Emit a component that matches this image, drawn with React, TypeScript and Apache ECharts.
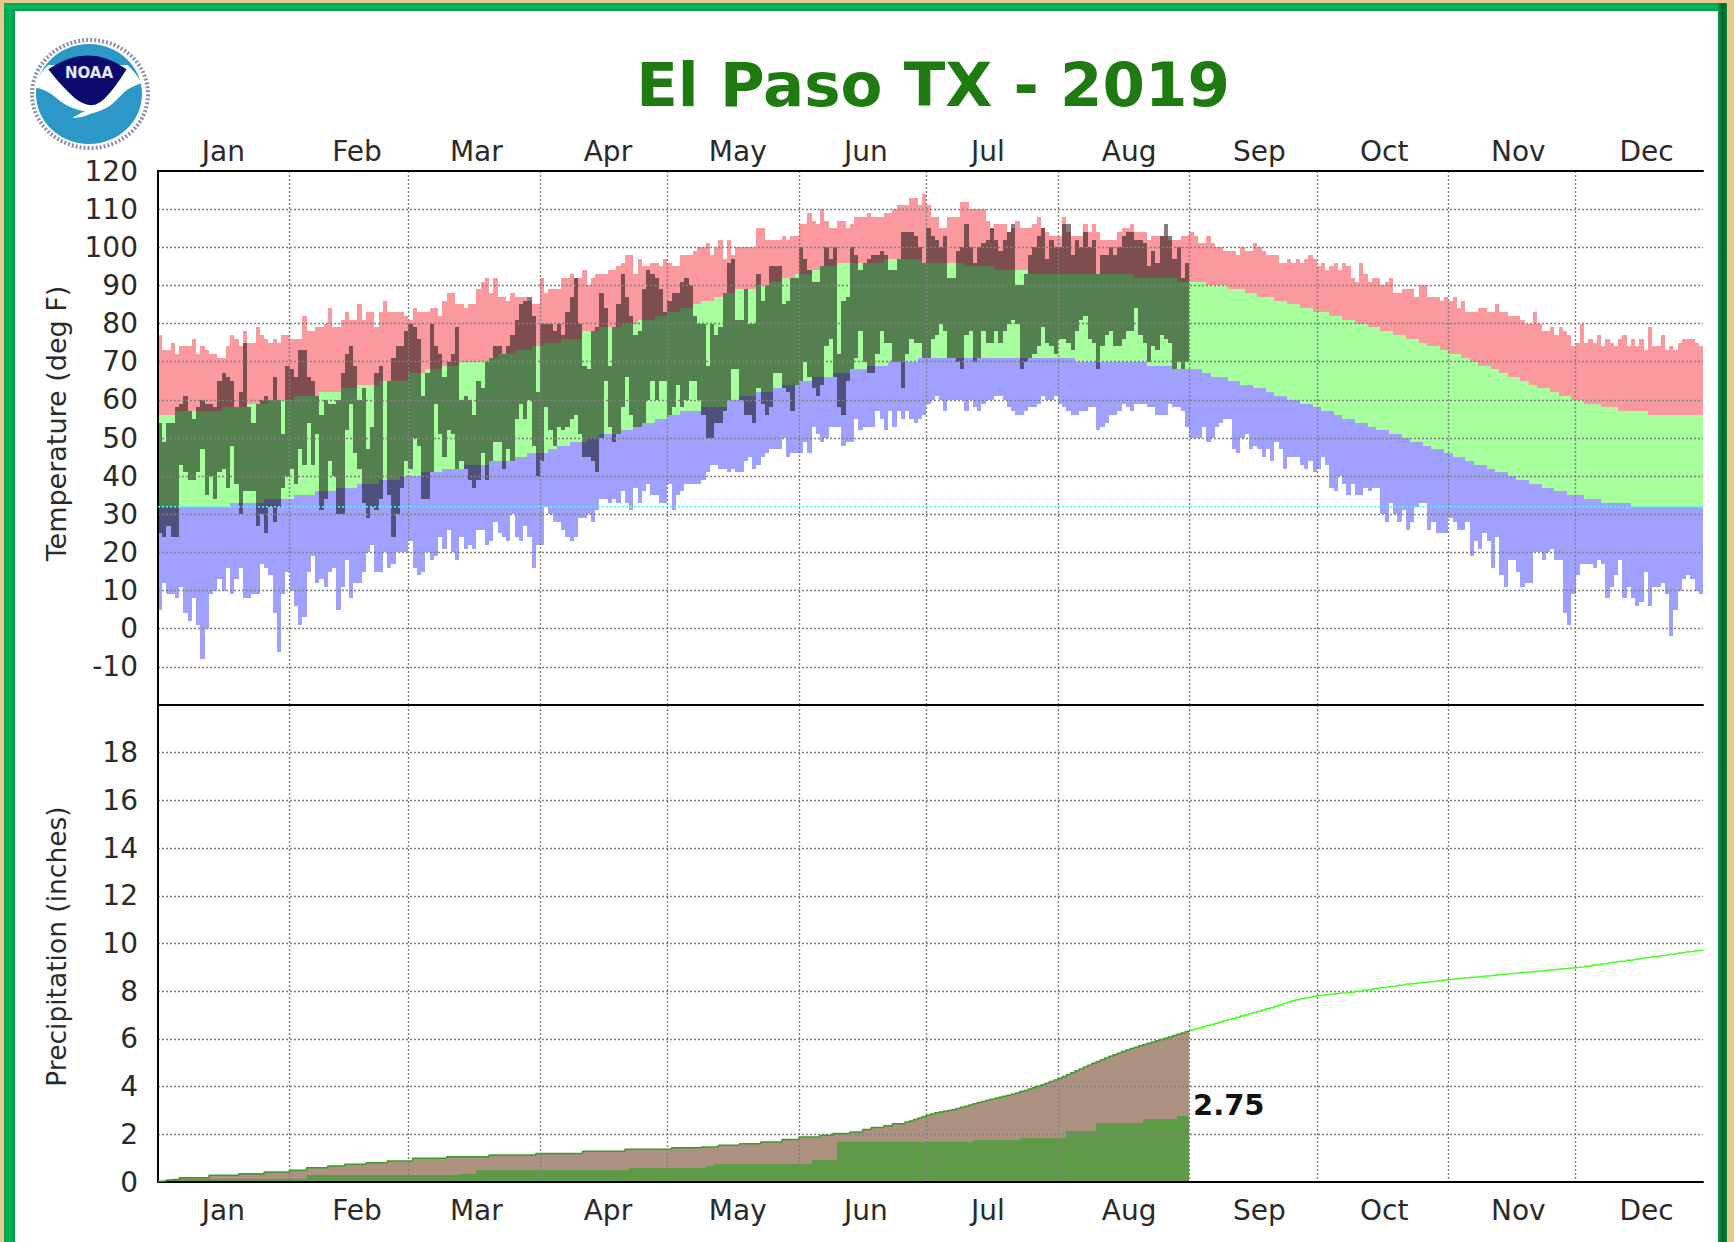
import React, { useEffect, useRef } from "react";
import * as echarts from "echarts";

const chartTitle = "El Paso TX - 2019";
const totalLabel = "2.75";
const monthNames = ["Jan", "Feb", "Mar", "Apr", "May", "Jun", "Jul", "Aug", "Sep", "Oct", "Nov", "Dec"];
const monthStarts = [31, 59, 90, 120, 151, 181, 212, 243, 273, 304, 334];
const monthLabelDays = [15.4, 46.9, 75, 106, 136.6, 166.8, 195.5, 228.8, 259.5, 288.9, 320.5, 350.7];
const freezing = 32;
const axisMaxDay = 364;
const lastObservedDay = 243;

const recordHigh = [
  77,73,73,75,72,74,74,74,76,72,74,73,72,72,71,71,74,77,76,74,78,75,75,79,77,76,75,76,75,77,77,
  76,76,76,82,78,78,79,79,80,84,79,79,81,83,81,81,85,81,83,83,79,83,86,83,83,83,83,82,
  81,84,83,83,83,84,84,82,86,88,88,85,85,84,85,85,89,91,92,88,92,87,87,86,88,87,87,87,86,85,85,
  92,88,89,89,89,92,92,93,92,92,94,90,92,93,93,93,94,94,95,96,98,98,93,97,95,95,96,96,95,97,
  96,95,95,98,98,98,99,100,100,101,98,100,102,97,102,98,100,100,100,100,100,105,105,102,102,102,102,103,102,103,103,
  106,106,109,107,106,110,107,105,105,107,107,105,106,108,108,108,109,108,108,108,109,109,110,111,111,111,113,113,111,114,
  111,108,108,105,105,108,108,108,112,112,110,110,110,110,107,105,106,106,106,104,105,107,105,105,105,106,108,105,104,103,103,
  103,108,104,103,103,103,106,104,106,104,102,102,102,102,104,105,105,106,104,104,104,102,103,103,103,103,102,102,102,103,103,
  104,103,101,101,103,101,100,100,99,99,99,98,100,99,99,101,100,99,98,98,98,96,96,97,96,97,96,97,98,97,
  95,96,94,95,96,94,96,95,92,91,96,93,91,92,92,90,91,92,88,88,89,89,89,87,90,90,87,87,87,86,87,
  86,87,84,86,83,83,83,84,84,83,83,85,83,83,82,82,82,81,80,80,83,80,78,78,79,77,79,78,77,74,
  75,80,75,76,75,77,74,76,75,74,76,77,74,76,74,76,73,79,74,74,77,73,74,73,75,76,76,76,75,74,74,
];

const normalHigh = [
  56,56,56,56,57,57,57,57,57,57,57,57,57,57,57,58,58,58,58,58,58,59,59,59,59,59,60,60,60,60,60,
  60,61,61,61,61,61,61,62,62,62,62,62,63,63,63,63,64,64,64,64,64,65,65,65,65,65,65,65,
  67,67,67,67,68,68,68,68,69,69,69,69,70,70,70,70,70,70,70,71,71,72,72,72,72,73,73,73,73,74,74,
  74,75,75,75,75,76,76,76,76,76,78,78,78,78,79,79,79,79,79,80,80,80,80,81,81,81,81,82,82,82,
  83,83,83,84,84,84,85,85,86,86,86,87,87,88,88,88,89,89,89,89,89,90,90,90,91,91,91,92,92,92,93,
  93,93,93,94,94,95,95,95,95,96,96,96,96,96,96,96,96,96,96,96,97,97,97,97,97,97,97,97,97,96,
  96,96,96,96,96,96,96,96,96,95,95,95,95,95,95,95,94,94,94,94,94,94,94,94,93,93,93,93,93,93,93,
  93,93,93,93,93,93,93,93,93,93,93,93,93,93,93,93,93,93,92,92,92,92,92,92,92,92,92,92,91,91,91,
  91,91,91,91,90,90,90,90,90,89,89,89,89,88,88,88,87,87,87,87,86,86,86,85,85,85,84,84,84,83,
  83,83,83,82,82,82,81,81,81,80,80,80,79,79,79,78,78,78,77,77,77,76,76,76,75,75,74,74,74,73,73,
  72,72,72,71,71,70,70,69,69,69,68,68,67,67,66,66,66,65,65,64,64,63,63,63,62,62,61,61,61,60,
  60,60,59,59,59,59,58,58,58,58,57,57,57,57,57,57,57,56,56,56,56,56,56,56,56,56,56,56,56,56,56,
];

const normalLow = [
  32,32,32,32,32,32,32,32,32,32,32,32,32,32,32,32,32,33,33,33,33,33,33,33,33,34,34,34,34,34,34,
  34,35,35,35,35,35,36,36,36,36,36,37,37,37,37,37,38,38,38,38,38,39,39,39,39,39,40,40,
  40,40,40,41,41,41,41,41,42,42,42,42,42,43,43,43,43,43,43,44,44,44,44,44,44,45,45,45,46,46,46,
  46,46,47,47,48,48,48,49,49,49,49,50,50,50,51,51,51,51,51,52,52,52,53,53,54,54,54,55,55,55,
  56,56,56,57,57,57,57,57,58,58,58,58,58,58,60,60,60,61,61,61,61,62,62,62,62,63,63,64,64,64,64,
  65,65,65,66,66,66,66,66,67,67,67,67,68,68,68,68,69,69,69,69,69,70,70,70,70,70,70,70,71,71,
  71,71,71,71,71,71,71,71,71,71,71,71,71,71,71,71,71,71,71,71,71,71,71,71,71,71,71,71,71,71,71,
  71,71,71,71,70,70,70,70,70,70,70,70,70,70,70,70,70,70,70,70,70,69,69,69,69,69,69,68,68,68,68,
  68,68,68,67,67,66,66,66,66,65,65,65,64,64,64,63,63,63,62,62,61,61,61,60,60,60,59,59,59,58,
  58,57,57,57,56,56,55,55,55,54,54,54,53,53,52,52,52,51,51,51,50,50,49,49,49,48,48,47,47,47,46,
  46,45,45,45,44,44,43,43,43,42,42,41,41,41,40,40,39,39,39,38,38,38,37,37,37,36,36,36,35,35,
  35,35,34,34,34,34,33,33,33,33,33,33,33,32,32,32,32,32,32,32,32,32,32,32,32,32,32,32,32,32,32,
];

const recordLow = [
  5,12,9,9,8,11,4,2,8,1,-8,0,9,10,13,10,16,9,13,16,8,8,9,9,17,16,14,4,-6,9,15,
  10,6,1,3,15,19,12,13,11,15,16,5,11,18,8,12,12,15,20,22,15,15,20,16,17,20,20,20,
  23,16,14,15,20,18,19,24,21,26,20,18,24,21,22,21,26,26,22,23,28,25,24,23,30,24,23,27,24,16,22,
  22,32,30,28,28,26,24,23,24,29,29,30,28,31,34,34,33,34,33,36,33,31,37,33,36,38,35,35,33,33,
  38,31,35,36,38,38,38,38,39,41,43,43,42,42,41,42,41,41,44,45,42,43,45,46,47,47,47,50,45,46,46,
  46,49,46,53,51,49,50,53,53,53,48,49,49,55,52,53,53,53,57,55,52,57,53,57,55,57,55,54,55,56,
  59,60,61,60,57,60,60,60,60,57,60,58,57,59,60,60,61,61,60,58,57,56,56,57,58,58,59,61,60,60,61,
  59,58,57,56,56,57,57,58,58,52,53,54,56,56,57,59,58,57,59,59,59,58,58,56,56,56,59,58,58,57,53,
  50,50,50,53,49,50,53,54,55,55,47,46,50,51,47,48,47,45,47,44,49,47,42,45,45,45,43,42,44,41,
  42,45,43,37,36,40,38,35,38,35,35,37,36,37,37,30,28,33,30,28,31,26,28,32,33,33,26,28,25,25,25,
  29,28,26,26,28,19,23,21,25,23,16,24,14,11,18,18,15,11,12,12,20,20,18,20,21,18,18,4,1,9,
  14,17,17,17,16,18,17,8,11,14,18,8,11,8,6,7,15,6,11,11,12,9,-2,5,10,13,14,13,10,9,9,
];

const observedHigh = [
  54,49,54,54,58,59,61,57,55,58,60,59,59,58,65,67,66,65,58,62,75,58,54,59,60,61,60,66,60,51,69,
  68,66,73,73,66,65,61,56,60,59,59,60,67,72,74,69,60,63,47,53,67,69,55,65,71,74,74,78,
  80,79,76,61,67,80,74,72,66,70,72,79,60,61,60,56,65,63,70,71,74,74,72,74,77,81,85,86,87,82,62,
  80,80,80,78,80,77,83,87,92,80,69,68,78,79,88,84,69,79,85,93,87,82,77,78,89,94,93,92,89,83,
  86,88,88,91,92,90,82,80,80,69,80,77,79,88,96,97,81,81,89,80,80,93,86,90,95,95,95,85,86,92,92,
  100,97,94,91,91,95,100,97,100,72,86,87,100,98,94,96,97,98,98,99,98,94,94,97,104,104,104,103,100,96,
  105,103,102,100,103,92,92,99,100,106,100,96,100,101,102,105,102,99,102,104,106,90,90,93,98,100,103,105,97,102,100,
  100,106,106,98,102,100,104,100,102,93,98,98,100,98,100,103,104,104,102,102,101,95,99,96,103,106,103,97,100,92,96,
];

const observedLow = [
  25,24,27,24,24,43,41,39,39,41,47,35,40,34,41,42,37,48,38,30,36,36,36,27,30,25,32,28,32,37,40,
  42,38,47,43,54,43,51,31,34,44,40,30,30,52,59,46,42,33,29,32,31,34,55,35,24,30,37,44,
  42,50,48,34,34,41,59,51,45,52,51,42,44,42,39,37,39,46,39,44,49,49,42,47,44,55,59,55,60,48,40,
  44,58,52,48,53,52,53,55,56,51,45,45,44,41,50,65,53,49,51,58,66,56,53,53,54,60,65,60,65,65,
  56,58,64,58,60,65,65,60,56,50,50,54,54,57,60,68,68,60,56,56,54,63,59,56,58,67,67,63,62,57,64,
  65,70,66,63,61,64,74,76,66,58,56,65,68,71,78,70,67,67,72,78,75,75,70,70,63,72,76,75,75,71,
  71,76,77,80,78,71,71,70,68,77,78,70,71,78,75,75,78,75,78,80,81,80,68,70,71,72,74,79,75,74,72,
  76,76,75,73,78,81,82,76,75,68,74,77,78,74,74,76,78,78,84,77,75,70,74,73,77,76,75,68,70,68,70,
];

const normalPrecip = [
  0.03,0.05,0.08,0.1,0.11,0.18,0.18,0.18,0.18,0.18,0.18,0.18,0.28,0.28,0.28,0.28,0.28,0.28,0.28,0.35,0.35,0.35,0.35,0.35,0.35,0.42,0.42,0.42,0.42,0.42,0.42,
  0.49,0.49,0.49,0.49,0.6,0.6,0.6,0.6,0.6,0.67,0.67,0.67,0.67,0.74,0.74,0.74,0.74,0.74,0.81,0.81,0.81,0.81,0.81,0.88,0.88,0.88,0.88,0.88,
  0.88,1,1,1,1,1,1,1,1,1.06,1.06,1.06,1.06,1.06,1.06,1.06,1.06,1.06,1.06,1.13,1.13,1.13,1.13,1.13,1.13,1.13,1.13,1.13,1.13,1.13,1.2,
  1.2,1.2,1.2,1.2,1.2,1.2,1.2,1.2,1.2,1.2,1.29,1.29,1.29,1.29,1.29,1.29,1.29,1.29,1.29,1.29,1.37,1.37,1.37,1.37,1.37,1.37,1.37,1.37,1.37,1.37,
  1.37,1.44,1.44,1.44,1.44,1.44,1.44,1.44,1.47,1.47,1.47,1.47,1.54,1.54,1.54,1.54,1.54,1.6,1.6,1.6,1.6,1.6,1.68,1.68,1.68,1.68,1.68,1.78,1.78,1.78,1.78,
  1.89,1.89,1.89,1.89,1.89,1.96,1.96,1.96,2.03,2.03,2.03,2.03,2.1,2.1,2.1,2.2,2.2,2.28,2.28,2.28,2.36,2.36,2.44,2.44,2.44,2.52,2.56,2.62,2.68,2.75,
  2.8,2.85,2.9,2.94,2.97,3,3.03,3.08,3.13,3.18,3.23,3.28,3.33,3.38,3.43,3.47,3.51,3.55,3.6,3.64,3.68,3.73,3.79,3.84,3.9,3.95,4.01,4.08,4.14,4.21,4.28,
  4.34,4.42,4.5,4.58,4.66,4.74,4.82,4.9,4.98,5.05,5.13,5.2,5.27,5.34,5.4,5.47,5.53,5.6,5.65,5.71,5.76,5.82,5.87,5.92,5.97,6.03,6.08,6.14,6.2,6.25,6.31,
  6.36,6.41,6.46,6.51,6.56,6.61,6.66,6.71,6.76,6.81,6.86,6.91,6.96,7.01,7.06,7.11,7.16,7.2,7.26,7.31,7.37,7.42,7.48,7.54,7.6,7.64,7.68,7.72,7.75,7.79,
  7.82,7.84,7.86,7.88,7.9,7.92,7.93,7.95,7.97,8,8.02,8.05,8.07,8.1,8.12,8.15,8.17,8.2,8.22,8.25,8.27,8.3,8.32,8.34,8.36,8.38,8.4,8.42,8.44,8.46,8.48,
  8.5,8.52,8.54,8.55,8.57,8.59,8.6,8.62,8.64,8.65,8.67,8.69,8.7,8.72,8.74,8.75,8.77,8.79,8.8,8.82,8.84,8.85,8.87,8.89,8.9,8.92,8.94,8.95,8.97,8.98,
  9,9.02,9.05,9.07,9.1,9.12,9.15,9.17,9.2,9.22,9.25,9.27,9.3,9.32,9.35,9.37,9.4,9.42,9.45,9.47,9.5,9.52,9.55,9.57,9.6,9.62,9.65,9.67,9.7,9.72,9.75,
];

const observedPrecip = [
  0.03,0.05,0.08,0.1,0.11,
  0.11,0.11,0.11,0.11,0.11, 0.11,0.11,0.11,0.11,0.11,
  0.11,0.11,0.11,0.11,0.11, 0.11,0.11,0.11,0.11,0.11,
  0.11,0.11,0.11,0.11,0.11, 0.11,
  0.11,0.11,0.11,0.11,
  0.28,0.28,0.28,0.28,0.28, 0.28,0.28,0.28,0.28,0.28,
  0.28,0.28,0.28,0.28,0.28, 0.28,0.28,0.28,0.28,0.28,
  0.28,0.28,0.28,0.28,
  0.28,0.28,0.28,0.28,0.28, 0.28,0.28,0.28,0.28,0.28, 0.28,0.28,
  0.35,0.35,0.35,0.35,
  0.5,0.5,0.5,0.5,0.5, 0.5,0.5,0.5,0.5,0.5, 0.5,0.5,0.5,0.5,0.5,
  0.5,0.5,0.5,0.5,0.5, 0.5,0.5,0.5,0.5,0.5, 0.5,0.5,0.5,0.5,0.5, 0.5,0.5,0.5,0.5,0.5, 0.5,
  0.6,0.6,0.6,0.6,0.6, 0.6,0.6,0.6,0.6,
  0.6,0.6,0.6,0.6,0.6, 0.6,0.6,0.6,0.6,
  0.67,0.67,
  0.75,0.75,0.75,0.75,0.75, 0.75,0.75,0.75,0.75,0.75, 0.75,0.75,0.75,0.75,0.75, 0.75,0.75,0.75,0.75,0.75,
  0.75,0.75,0.75,
  0.94,0.94,0.94,0.94,0.94,0.94,
  1.68,1.68,1.68,1.68,1.68, 1.68,1.68,1.68,1.68,1.68, 1.68,1.68,1.68,1.68,1.68, 1.68,1.68,1.68,1.68,1.68, 1.68,
  1.68,1.68,1.68,1.68,1.68, 1.68,1.68,1.68,1.68,1.68, 1.68,
  1.75,1.75,1.75,1.75,1.75, 1.75,1.75,1.75,1.75,1.75, 1.75,
  1.83,1.83,1.83,1.83,1.83, 1.83,1.83,1.83,1.83,
  1.83,1.83,
  2.14,2.14,2.14,2.14,2.14,2.14,2.14,
  2.48,2.48,2.48,2.48,2.48, 2.48,2.48,2.48,2.48,2.48, 2.48,
  2.63,2.63,2.63,2.63,2.63, 2.63,2.63,2.63,
  2.75,2.75,2.75,
];

const colors = {
  pink: "#fa9a9e",
  green: "#a8ff9e",
  blue: "#a0a0ff",
  observed: "rgba(0,0,0,0.5)",
  brown: "#ad9282",
  precipGreen: "#5e9a48",
  precipLine: "#44ff22",
  precipLineDark: "#3f9a2a",
  cyan: "#44ffff",
  grid: "#808080",
  title: "#1f7a12",
  text: "#2a2a2a",
};

echarts.graphic.registerShape(
  "noaaNavy",
  echarts.graphic.extendPath("M100 118 Q220 35 335 118 Q300 175 270 205 Q250 225 230 226 Q205 225 180 205 Q140 170 100 118 Z", {})
);
echarts.graphic.registerShape(
  "noaaWhite",
  echarts.graphic.extendPath("M58 172 Q72 130 100 105 L338 105 Q365 130 380 160 Q340 170 310 205 Q280 240 235 246 Q170 245 125 205 Q95 178 58 172 Z", {})
);
echarts.graphic.registerShape(
  "noaaBird",
  echarts.graphic.extendPath("M172 264 Q215 235 290 224 Q262 244 226 252 Q200 264 172 264 Z", {})
);

function bandSeries(name: string, rows: number[][], fill: string, xAxisIndex: number, yAxisIndex: number) {
  return {
    type: "custom",
    name,
    xAxisIndex,
    yAxisIndex,
    z: 2,
    clip: true,
    silent: true,
    encode: { x: 0, y: [1, 2] },
    data: rows,
    renderItem: (_params: any, api: any) => {
      const d = api.value(0);
      const a = api.coord([d, api.value(1)]);
      const b = api.coord([d + 1, api.value(2)]);
      const x = Math.round(a[0]);
      const y = Math.round(b[1]);
      return {
        type: "rect",
        shape: { x, y, width: Math.round(b[0]) - x, height: Math.round(a[1]) - y },
        style: { fill },
      };
    },
  };
}

const rowsBetween = (lo: number[], hi: number[]) => hi.map((h, d) => [d, lo[d], h]);

const labelStyle = { color: colors.text, fontFamily: "DejaVu Sans", fontSize: 28 };
const gridLineStyle = { color: colors.grid, type: [2, 2] as any, width: 1.4 };
const gridLine = { show: true, showMinLine: false, showMaxLine: false, lineStyle: gridLineStyle };
const blackLine = { show: true, onZero: false, lineStyle: { color: "#000000", width: 2 } };

function monthAxis(gridIndex: number, position: string, margin: number) {
  return {
    type: "value",
    gridIndex,
    position,
    min: 0,
    max: axisMaxDay,
    z: 10,
    axisLine: blackLine,
    axisTick: { show: false, customValues: monthStarts },
    axisLabel: {
      ...labelStyle,
      margin,
      customValues: monthLabelDays,
      formatter: (v: number) => monthNames[monthLabelDays.indexOf(v)] ?? "",
    },
    splitLine: { show: true, lineStyle: gridLineStyle },
  };
}

function frameGradient(x2: number, y2: number, stops: string[]) {
  return new echarts.graphic.LinearGradient(0, 0, x2, y2, stops.map((color, i) => ({ offset: i / (stops.length - 1), color })));
}

export default function App() {
  const ref = useRef<HTMLDivElement>(null);
  useEffect(() => {
    const chart = echarts.init(ref.current!, undefined, { renderer: "svg" });
    const line = (data: number[][], color: string, width: number, xAxisIndex: number, yAxisIndex: number, z: number, type: any, step: any) => ({
      type: "line",
      xAxisIndex,
      yAxisIndex,
      data,
      z,
      step,
      symbol: "none",
      silent: true,
      lineStyle: { color, width, type },
    });
    const precipPoints = normalPrecip.map((v, d) => [d, v]);
    chart.setOption({
      animation: false,
      backgroundColor: "#e8c98f",
      title: {
        text: chartTitle,
        left: 928,
        top: 49,
        textAlign: "center",
        textStyle: { color: colors.title, fontFamily: "DejaVu Sans", fontWeight: "bold", fontSize: 61 },
      },
      grid: [
        { left: 158, top: 171, width: 1545, height: 534 },
        { left: 158, top: 705, width: 1545, height: 477 },
      ],
      xAxis: [
        monthAxis(0, "top", 6),
        monthAxis(1, "bottom", 14),
        {
          type: "value",
          gridIndex: 1,
          position: "top",
          min: 0,
          max: axisMaxDay,
          z: 10,
          axisLine: blackLine,
          axisTick: { show: false },
          axisLabel: { show: false },
          splitLine: { show: false },
        },
      ],
      yAxis: [
        {
          type: "value",
          gridIndex: 0,
          min: -20,
          max: 120,
          interval: 10,
          z: 10,
          name: "Temperature (deg F)",
          nameLocation: "middle",
          nameGap: 88,
          nameTextStyle: { ...labelStyle, fontSize: 27, padding: [0, 0, 0, 29] },
          axisLine: blackLine,
          axisTick: { show: false },
          axisLabel: { ...labelStyle, margin: 20, showMinLabel: false },
          splitLine: gridLine,
        },
        {
          type: "value",
          gridIndex: 1,
          min: 0,
          max: 20,
          interval: 2,
          z: 10,
          name: "Precipitation (inches)",
          nameLocation: "middle",
          nameGap: 88,
          nameTextStyle: { ...labelStyle, fontSize: 26.5, padding: [0, 6, 0, 0] },
          axisLine: blackLine,
          axisTick: { show: false },
          axisLabel: { ...labelStyle, margin: 20, showMaxLabel: false },
          splitLine: gridLine,
        },
      ],
      series: [
        bandSeries("Record high", rowsBetween(normalHigh, recordHigh), colors.pink, 0, 0),
        bandSeries("Normal range", rowsBetween(normalLow, normalHigh), colors.green, 0, 0),
        bandSeries("Record low", rowsBetween(recordLow, normalLow), colors.blue, 0, 0),
        bandSeries("Observed", rowsBetween(observedLow, observedHigh), colors.observed, 0, 0),
        line([[0, freezing], [axisMaxDay, freezing]], colors.cyan, 1.5, 0, 0, 12, [2, 2], false),
        bandSeries("Precip departure", rowsBetween(observedPrecip, normalPrecip.slice(0, observedPrecip.length)), colors.brown, 1, 1),
        bandSeries("Observed precip", observedPrecip.map((v, d) => [d, 0, v]), colors.precipGreen, 1, 1),
        line(precipPoints.slice(0, lastObservedDay + 1), colors.precipLineDark, 1.5, 1, 1, 12, "solid", "end"),
        line(precipPoints.slice(lastObservedDay), colors.precipLine, 1.5, 1, 1, 12, "solid", "end"),
      ],
      graphic: [
        { type: "rect", z: -5, shape: { x: 15, y: 11, width: 1703, height: 1231 }, style: { fill: "#ffffff" } },
        { type: "rect", z: -4, shape: { x: 4, y: 3, width: 11, height: 1239 }, style: { fill: frameGradient(1, 0, ["#00a455", "#00b858", "#009a4e"]) } },
        { type: "rect", z: -4, shape: { x: 4, y: 3, width: 1723, height: 8 }, style: { fill: frameGradient(0, 1, ["#00a455", "#00c061", "#009a4e"]) } },
        { type: "rect", z: -4, shape: { x: 1718, y: 3, width: 9, height: 1239 }, style: { fill: frameGradient(1, 0, ["#00a04e", "#005c2c", "#008a42"]) } },
        { type: "ellipse", z: 1, shape: { cx: 90, cy: 94, rx: 58, ry: 54 }, style: { fill: "none", stroke: "#8a90a8", lineWidth: 4, lineDash: [2, 2] } },
        { type: "ellipse", z: 1, shape: { cx: 89, cy: 94, rx: 53, ry: 50 }, style: { fill: "#2b98c8" } },
        { type: "noaaWhite", z: 2, x: 15, y: 30, scaleX: 1 / 3, scaleY: 1 / 3, style: { fill: "#ffffff" } },
        { type: "noaaNavy", z: 3, x: 15, y: 30, scaleX: 1 / 3, scaleY: 1 / 3, style: { fill: "#0b0b6e" } },
        { type: "noaaBird", z: 3, x: 15, y: 30, scaleX: 1 / 3, scaleY: 1 / 3, style: { fill: "#ffffff" } },
        {
          type: "text",
          z: 4,
          x: 89,
          y: 73,
          style: { text: "NOAA", fill: "#e8e8ff", font: "bold 15px 'DejaVu Sans'", textAlign: "center", textVerticalAlign: "middle" },
        },
        {
          type: "text",
          z: 20,
          x: 1193,
          y: 1105,
          style: { text: totalLabel, fill: "#111111", font: "bold 29px 'DejaVu Sans'", textAlign: "left", textVerticalAlign: "middle" },
        },
      ],
    });
    return () => chart.dispose();
  }, []);
  return <div ref={ref} style={{ position: "absolute", left: 0, top: 0, width: 1734, height: 1242 }} />;
}
